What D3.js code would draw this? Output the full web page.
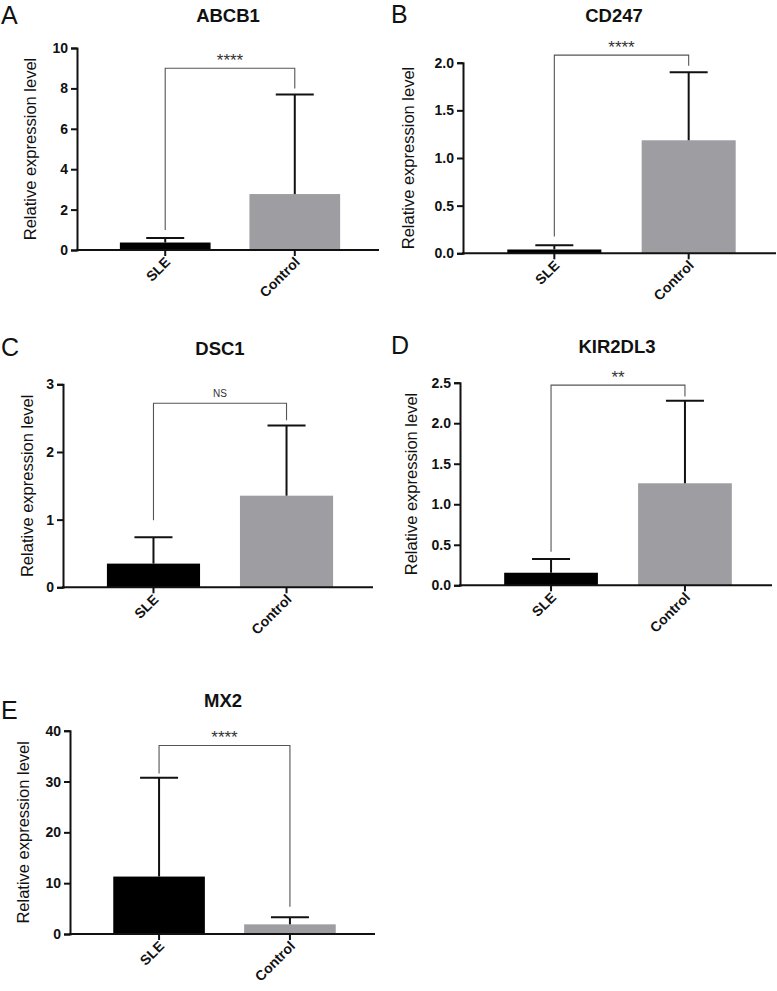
<!DOCTYPE html>
<html>
<head>
<meta charset="utf-8">
<script src="https://cdn.jsdelivr.net/npm/d3@7"></script>
<style>
  html, body { margin: 0; padding: 0; background: #fff; }
  svg { display: block; }
</style>
</head>
<body>
<svg id="chart" width="777" height="991"></svg>
<script>
// ---------------- DATA ----------------
const panelLetters = ["A", "B", "C", "D", "E"];
const genes = ["ABCB1", "CD247", "DSC1", "KIR2DL3", "MX2"];
const groups = ["SLE", "Control"];
const sleMean = [0.37, 0.04, 0.35, 0.155, 11.3];
const sleUpper = [0.6, 0.085, 0.74, 0.325, 30.75];
const controlMean = [2.77, 1.186, 1.354, 1.259, 1.9];
const controlUpper = [7.7, 1.90, 2.39, 2.278, 3.28];
const yMax = [10, 2, 3, 2.5, 40];
const yTicks = [
  [0, 2, 4, 6, 8, 10],
  [0, 0.5, 1.0, 1.5, 2.0],
  [0, 1, 2, 3],
  [0, 0.5, 1.0, 1.5, 2.0, 2.5],
  [0, 10, 20, 30, 40]
];
const yTickFormat = ["d", ".1f", "d", ".1f", "d"];
const sigLabels = ["****", "****", "NS", "**", "****"];
const bracketLevel = [9.0, 2.08, 2.72, 2.47, 37.1];
const bracketLeftEnd = [0.99, 0.175, 0.99, 0.415, 31.6];
const bracketRightEnd = [8.0, 1.968, 2.47, 2.33, 5.37];
const yLabel = "Relative expression level";

// ---------------- LAYOUT ----------------
const layout = [
  { axisX: 77,  yTop: 48,    y0: 250,   xEnd: 379, titleX: 228, titleY: 22,  letterX: 1,   letterY: 24,  labelX: 30 },
  { axisX: 463, yTop: 62.7,  y0: 253.3, xEnd: 776, titleX: 614, titleY: 22,  letterX: 391, letterY: 23,  labelX: 408 },
  { axisX: 63,  yTop: 384.3, y0: 587.3, xEnd: 373, titleX: 220, titleY: 355, letterX: 1,   letterY: 356, labelX: 27 },
  { axisX: 460, yTop: 382.7, y0: 585.3, xEnd: 772, titleX: 617, titleY: 353, letterX: 391, letterY: 354, labelX: 411 },
  { axisX: 70,  yTop: 730.7, y0: 934,   xEnd: 375, titleX: 223, titleY: 707, letterX: 1,   letterY: 719, labelX: 23 }
];
const barColors = { SLE: "#000000", Control: "#9e9da2" };
const font = "'Liberation Sans', Arial, Helvetica, sans-serif";

const svg = d3.select("#chart");

genes.forEach((gene, i) => {
  const L = layout[i];
  const g = svg.append("g");
  const values = [
    { group: "SLE", mean: sleMean[i], upper: sleUpper[i] },
    { group: "Control", mean: controlMean[i], upper: controlUpper[i] }
  ];

  const x = d3.scaleBand().domain(groups).range([L.axisX + 4, L.xEnd])
    .paddingInner(0.3).paddingOuter(0.3);
  const y = d3.scaleLinear().domain([0, yMax[i]]).range([L.y0, L.yTop]);

  // panel letter
  g.append("text").attr("x", L.letterX).attr("y", L.letterY)
    .attr("font-family", font).attr("font-size", 25).attr("fill", "#111")
    .text(panelLetters[i]);

  // title
  g.append("text").attr("x", L.titleX).attr("y", L.titleY)
    .attr("text-anchor", "middle")
    .attr("font-family", font).attr("font-size", 18.5).attr("font-weight", "bold")
    .attr("fill", "#111").text(gene);

  // bars
  g.selectAll("rect.bar").data(values).enter().append("rect")
    .attr("class", "bar")
    .attr("x", d => x(d.group))
    .attr("width", x.bandwidth())
    .attr("y", d => y(d.mean))
    .attr("height", d => y(0) - y(d.mean))
    .attr("fill", d => barColors[d.group]);

  // error bars
  const cx = d => x(d.group) + x.bandwidth() / 2;
  g.selectAll("line.err").data(values).enter().append("line")
    .attr("x1", cx).attr("x2", cx)
    .attr("y1", d => y(d.mean)).attr("y2", d => y(d.upper))
    .attr("stroke", "#111").attr("stroke-width", 2);
  g.selectAll("line.cap").data(values).enter().append("line")
    .attr("x1", d => cx(d) - 19).attr("x2", d => cx(d) + 19)
    .attr("y1", d => y(d.upper)).attr("y2", d => y(d.upper))
    .attr("stroke", "#111").attr("stroke-width", 2);

  // y axis
  const yAxis = d3.axisLeft(y).tickValues(yTicks[i])
    .tickFormat(d3.format(yTickFormat[i])).tickSizeOuter(0).tickSize(6).tickPadding(3);
  const ya = g.append("g").attr("transform", `translate(${L.axisX},0)`).call(yAxis);
  ya.select(".domain").attr("stroke", "#111").attr("stroke-width", 2);
  ya.selectAll(".tick line").attr("stroke", "#111").attr("stroke-width", 2);
  ya.selectAll(".tick text").attr("font-family", font).attr("font-size", 14)
    .attr("font-weight", "bold").attr("fill", "#111");

  // x axis
  const xa = g.append("g").attr("transform", `translate(0,${L.y0})`);
  xa.append("line").attr("x1", L.axisX - 1).attr("x2", L.xEnd)
    .attr("y1", 0).attr("y2", 0).attr("stroke", "#111").attr("stroke-width", 2);
  xa.selectAll("line.xt").data(groups).enter().append("line")
    .attr("x1", d => x(d) + x.bandwidth() / 2).attr("x2", d => x(d) + x.bandwidth() / 2)
    .attr("y1", 0).attr("y2", 6).attr("stroke", "#111").attr("stroke-width", 2);
  xa.selectAll("text.xl").data(groups).enter().append("text")
    .attr("text-anchor", "end")
    .attr("transform", d => `translate(${x(d) + x.bandwidth() / 2 + 6},${13}) rotate(-45)`)
    .attr("font-family", font).attr("font-size", 14).attr("font-weight", "bold")
    .attr("fill", "#111").text(d => d);

  // y label
  g.append("text")
    .attr("transform", `translate(${L.labelX},${(L.yTop + L.y0) / 2}) rotate(-90)`)
    .attr("text-anchor", "middle").attr("dy", "0.35em")
    .attr("font-family", font).attr("font-size", 16.5).attr("fill", "#111")
    .text(yLabel);

  // significance bracket
  const xl = x("SLE") + x.bandwidth() / 2;
  const xr = x("Control") + x.bandwidth() / 2;
  const path = d3.path();
  path.moveTo(xl, y(bracketLeftEnd[i]));
  path.lineTo(xl, y(bracketLevel[i]));
  path.lineTo(xr, y(bracketLevel[i]));
  path.lineTo(xr, y(bracketRightEnd[i]));
  g.append("path").attr("d", path.toString())
    .attr("fill", "none").attr("stroke", "#555").attr("stroke-width", 1.1);
  const isNS = sigLabels[i] === "NS";
  g.append("text").attr("x", (xl + xr) / 2)
    .attr("y", y(bracketLevel[i]) - (isNS ? 6.5 : 2.5))
    .attr("text-anchor", "middle")
    .attr("font-family", font).attr("font-size", isNS ? 10 : 17)
    .attr("fill", "#333").text(sigLabels[i]);
});
</script>
</body>
</html>
